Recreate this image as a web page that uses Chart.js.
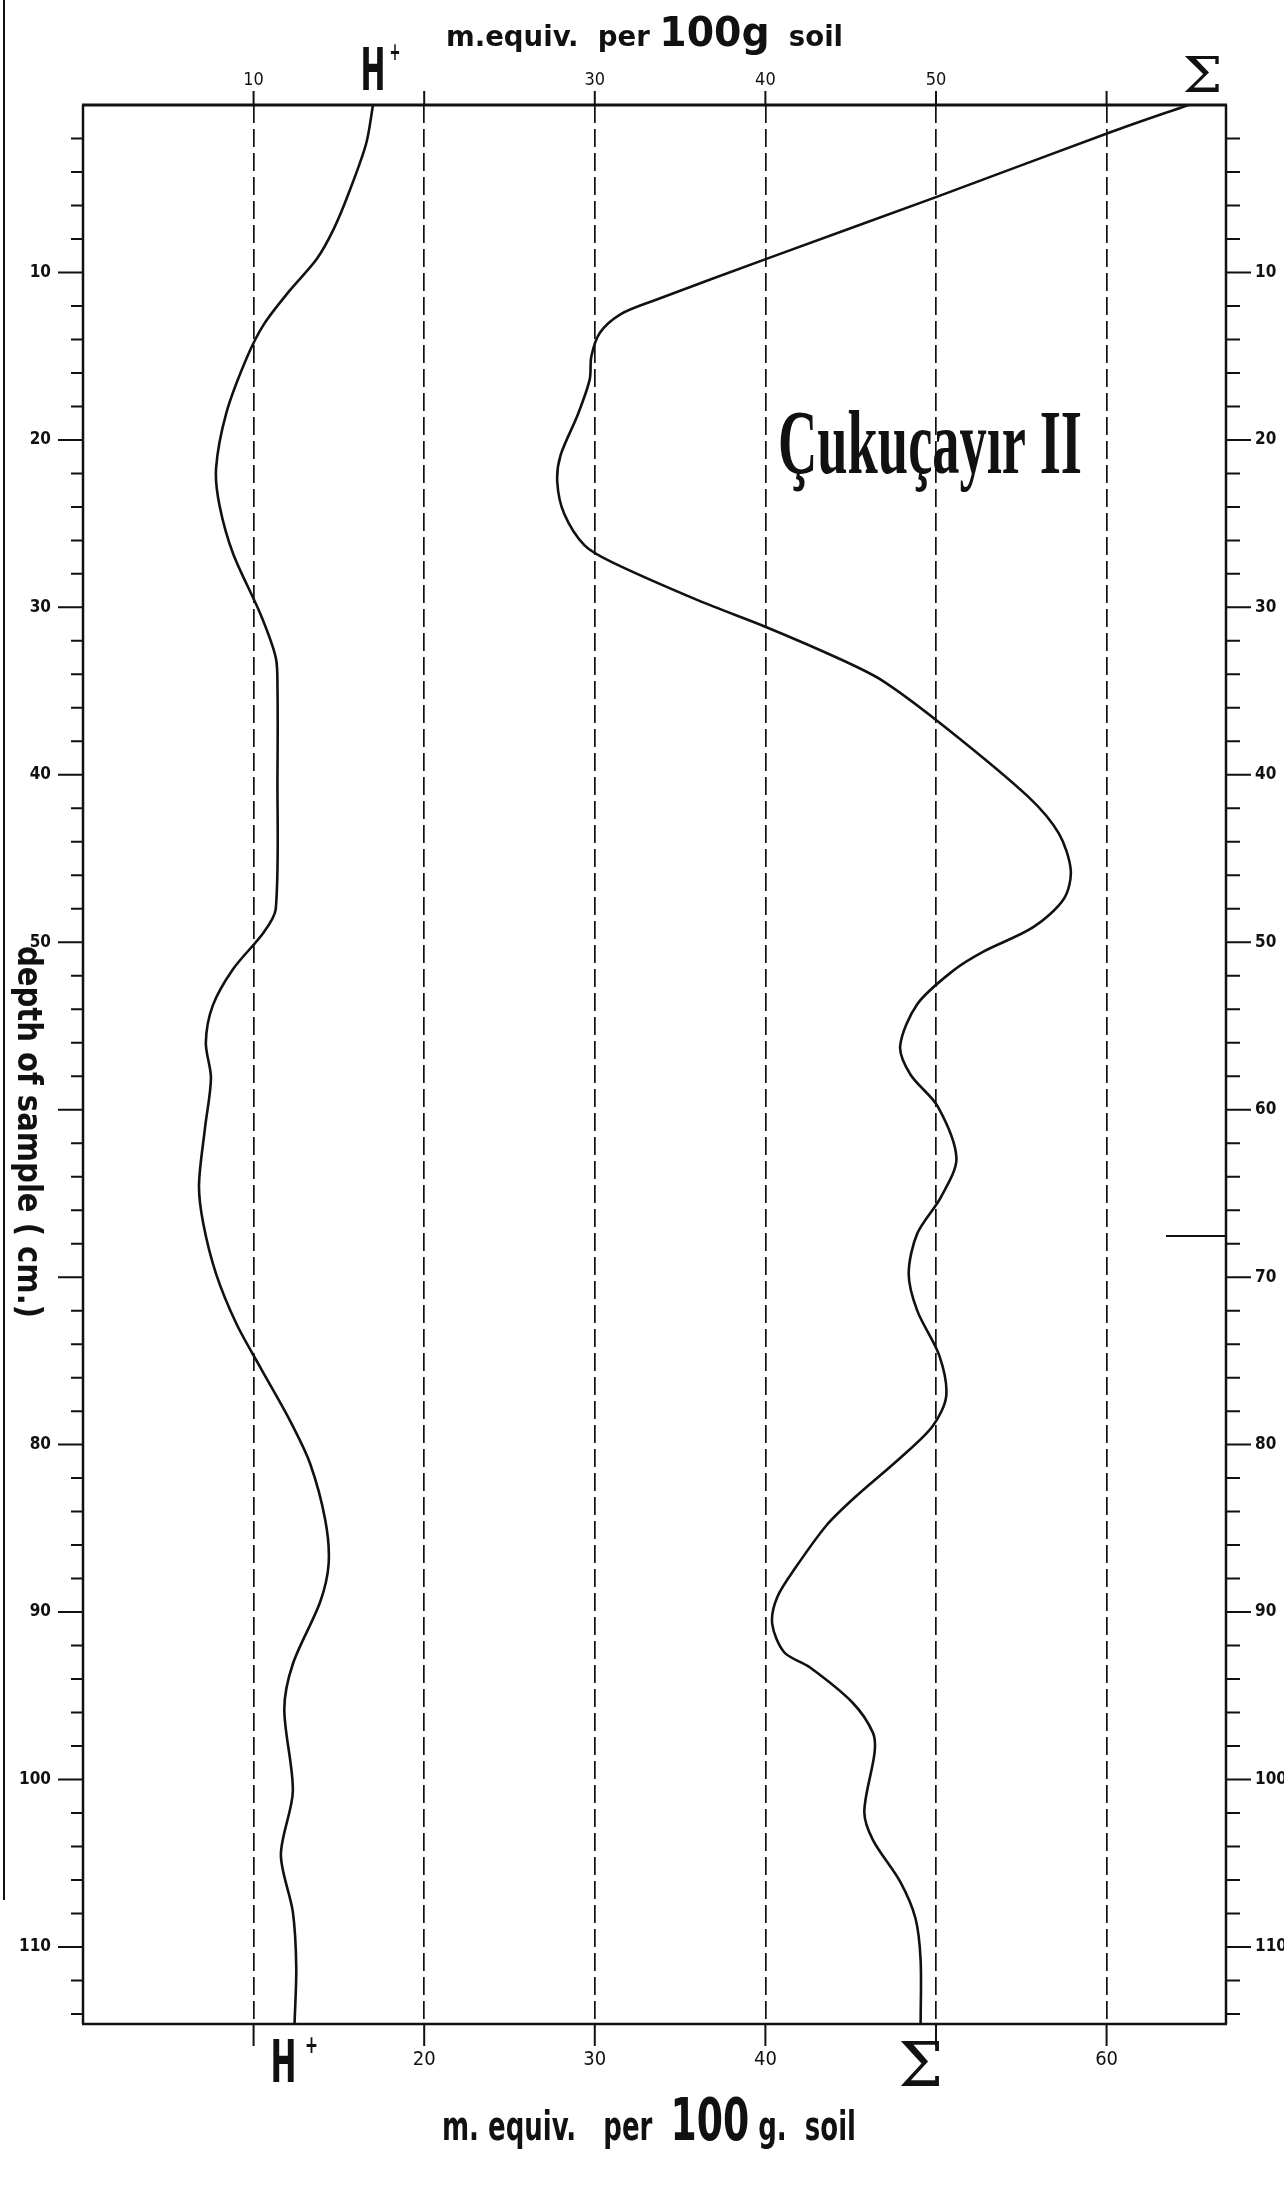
<!DOCTYPE html>
<html>
<head>
<meta charset="utf-8">
<script src="https://cdn.jsdelivr.net/npm/chart.js@4.4.1/dist/chart.umd.min.js"></script>
<style>
  html, body { margin: 0; padding: 0; background: #fff; }
  canvas { display: block; }
</style>
</head>
<body>
<canvas id="soil" width="1284" height="2189"></canvas>
<script>
// depth of sample (cm) and m. equiv. per 100 g soil
var hPlusDepth = [0, 2.3, 5.2, 7.4, 9.2, 11.1, 13.1, 15.1, 18.4, 21.7, 23.9, 26.8, 30.4, 33.0, 34.8, 39.9, 48.0, 49.4, 51.6, 53.8, 56.0, 58.1, 61.1, 64.5, 66.8, 69.8, 72.8, 75.4, 78.5, 81.1, 84.5, 87.1, 89.4, 93.1, 95.8, 100.7, 104.5, 107.9, 111.2, 114.6];
var hPlusValue = [17.0, 16.6, 15.6, 14.7, 13.7, 12.1, 10.6, 9.6, 8.4, 7.8, 8.0, 8.8, 10.4, 11.3, 11.4, 11.4, 11.3, 10.6, 8.8, 7.6, 7.2, 7.5, 7.15, 6.8, 7.05, 7.8, 9.0, 10.4, 12.1, 13.3, 14.2, 14.4, 13.9, 12.3, 11.8, 12.3, 11.6, 12.3, 12.5, 12.4];

var sumDepth = [0, 1.6, 5.5, 9.1, 11.7, 12.5, 13.6, 15.0, 16.4, 18.5, 20.9, 22.5, 24.4, 26.3, 27.3, 29.6, 31.2, 33.1, 34.4, 37.2, 41.3, 43.5, 45.7, 47.4, 49.1, 50.6, 51.7, 53.7, 56.2, 57.9, 59.8, 62.9, 65.2, 67.4, 69.8, 72.0, 74.7, 77.1, 78.9, 80.8, 83.1, 84.8, 87.3, 89.1, 90.7, 92.4, 93.3, 95.4, 97.2, 98.4, 101.9, 103.6, 106.1, 108.3, 110.8, 114.6];
var sumValue = [64.8, 60.3, 50.0, 40.3, 33.4, 31.5, 30.3, 29.8, 29.7, 29.0, 28.0, 27.8, 28.2, 29.4, 31.0, 36.1, 40.1, 44.4, 46.9, 50.6, 55.4, 57.2, 57.9, 57.5, 55.7, 52.7, 51.0, 48.9, 47.9, 48.5, 50.1, 51.2, 50.3, 48.9, 48.4, 48.9, 50.2, 50.6, 49.8, 47.9, 45.3, 43.6, 41.8, 40.7, 40.4, 41.1, 42.6, 45.1, 46.3, 46.4, 45.8, 46.3, 47.9, 48.8, 49.1, 49.1];

// which tick numbers are written on each axis
var bottomTickLabels = [20, 30, 40, 60];
var topTickLabels = [10, 30, 40, 50];
var leftDepthLabels = [10, 20, 30, 40, 50, 80, 90, 100, 110];   // 60 and 70 sit under the axis title
var rightDepthLabels = [10, 20, 30, 40, 50, 60, 70, 80, 90, 100, 110];

var INK = '#111';
var NARROW = "'Liberation Sans Narrow', 'DejaVu Sans Condensed', 'Roboto Condensed', 'Liberation Sans', sans-serif";

function toPoints(depth, value) {
  return depth.map(function (d, i) { return { x: value[i], y: d }; });
}

// draw text squeezed/stretched to a given width, centred on cx
function fitText(ctx, text, cx, baseY, font, width) {
  ctx.save();
  ctx.font = font;
  var w = ctx.measureText(text).width;
  ctx.translate(cx, baseY);
  ctx.scale(width / w, 1);
  ctx.textAlign = 'center';
  ctx.textBaseline = 'alphabetic';
  ctx.fillText(text, 0, 0);
  ctx.restore();
}

// runs of different sizes on one baseline, fitted between x0 and x1
function fitRuns(ctx, runs, x0, x1, baseY) {
  ctx.save();
  var total = 0;
  runs.forEach(function (r) { ctx.font = r[1]; r.w = ctx.measureText(r[0]).width; total += r.w; });
  ctx.translate(x0, baseY);
  ctx.scale((x1 - x0) / total, 1);
  ctx.textAlign = 'left';
  ctx.textBaseline = 'alphabetic';
  var x = 0;
  runs.forEach(function (r) { ctx.font = r[1]; ctx.fillText(r[0], x, 0); x += r.w; });
  ctx.restore();
}

var decorations = {
  id: 'decorations',
  afterDraw: function (chart) {
    var ctx = chart.ctx;
    var a = chart.chartArea;
    var xs = chart.scales.x, xt = chart.scales.x2, ys = chart.scales.y, yr = chart.scales.y2;
    ctx.save();
    ctx.strokeStyle = INK;
    ctx.fillStyle = INK;
    ctx.lineCap = 'butt';

    // frame
    ctx.lineWidth = 3;
    ctx.beginPath(); ctx.moveTo(a.left - 1, a.top); ctx.lineTo(a.right + 1, a.top); ctx.stroke();
    ctx.lineWidth = 2.5;
    ctx.beginPath();
    ctx.moveTo(a.left, a.top); ctx.lineTo(a.left, a.bottom);
    ctx.moveTo(a.right, a.top); ctx.lineTo(a.right, a.bottom);
    ctx.moveTo(a.left - 1, a.bottom); ctx.lineTo(a.right + 1, a.bottom);
    ctx.stroke();

    // tick marks
    ctx.lineWidth = 2;
    ctx.beginPath();
    xs.ticks.forEach(function (t) {
      if (t.value <= 0) return;
      var px = xs.getPixelForValue(t.value);
      ctx.moveTo(px, a.bottom); ctx.lineTo(px, a.bottom + 22);
    });
    xt.ticks.forEach(function (t) {
      if (t.value <= 0) return;
      var px = xt.getPixelForValue(t.value);
      ctx.moveTo(px, a.top); ctx.lineTo(px, a.top - 14);
    });
    ys.ticks.forEach(function (t) {
      if (t.value <= 0) return;
      var py = ys.getPixelForValue(t.value);
      ctx.moveTo(a.left, py); ctx.lineTo(a.left - (t.value % 10 === 0 ? 25 : 12), py);
    });
    yr.ticks.forEach(function (t) {
      if (t.value <= 0) return;
      var py = yr.getPixelForValue(t.value);
      ctx.moveTo(a.right, py); ctx.lineTo(a.right + (t.value % 10 === 0 ? 25 : 14), py);
    });
    ctx.stroke();

    // curve names at both ends of each curve
    var hTop = xs.getPixelForValue(hPlusValue[0]);
    var hBot = xs.getPixelForValue(hPlusValue[hPlusValue.length - 1]);
    var sTop = xs.getPixelForValue(sumValue[0]);
    var sBot = xs.getPixelForValue(sumValue[sumValue.length - 1]);
    fitText(ctx, 'H', hTop, 90, "bold 58px " + NARROW, 25);
    fitText(ctx, '+', hTop + 22, 60, "bold 24px " + NARROW, 11);
    fitText(ctx, 'H', hBot - 11, 2082, "bold 58px " + NARROW, 26);
    fitText(ctx, '+', hBot + 17, 2053, "bold 24px " + NARROW, 13);
    fitText(ctx, 'Σ', sTop + 14, 92, "48px 'DejaVu Serif', 'Liberation Serif', serif", 40);
    fitText(ctx, 'Σ', sBot, 2086, "62px 'DejaVu Serif', 'Liberation Serif', serif", 45);

    // axis titles
    fitRuns(ctx, [
      ['m.equiv.  per ', "bold 28px " + NARROW],
      ['100', "bold 40px " + NARROW],
      ['g', "bold 40px " + NARROW],
      ['  soil', "bold 28px " + NARROW]
    ], 446, 843, 46);
    fitRuns(ctx, [
      ['m. equiv.   per  ', "bold 40px " + NARROW],
      ['100', "bold 58px " + NARROW],
      [' g.  soil', "bold 40px " + NARROW]
    ], 442, 856, 2140);

    ctx.save();
    ctx.translate(27, 1132);
    ctx.rotate(Math.PI / 2);
    ctx.font = "bold 34px " + NARROW;
    var tw = ctx.measureText('depth of sample ( cm.)').width;
    ctx.scale(372 / tw, 1);
    ctx.textAlign = 'center';
    ctx.textBaseline = 'middle';
    ctx.fillText('depth of sample ( cm.)', 0, 0);
    ctx.restore();

    // profile name
    fitText(ctx, 'Çukuçayır II', 930, 473, "bold 92px 'Liberation Serif', 'DejaVu Serif', serif", 304);

    // scan edge and stray stroke of the original sheet
    ctx.lineWidth = 2;
    ctx.beginPath();
    ctx.moveTo(4, 0); ctx.lineTo(4, 1900);
    ctx.moveTo(1166, 1236); ctx.lineTo(a.right, 1236);
    ctx.stroke();
    ctx.restore();
  }
};

var tickFont = { family: NARROW, size: 20 };
var depthFont = { family: NARROW, size: 17, weight: 'bold' };

new Chart(document.getElementById('soil'), {
  type: 'scatter',
  data: {
    datasets: [{
      label: 'H+',
      data: toPoints(hPlusDepth, hPlusValue),
      showLine: true,
      borderColor: INK,
      borderWidth: 2.6,
      pointRadius: 0,
      tension: 0.3,
      fill: false
    }, {
      label: 'Σ',
      data: toPoints(sumDepth, sumValue),
      showLine: true,
      borderColor: INK,
      borderWidth: 2.6,
      pointRadius: 0,
      tension: 0.3,
      fill: false
    }]
  },
  options: {
    responsive: false,
    animation: false,
    layout: { padding: 0 },
    plugins: {
      legend: { display: false },
      tooltip: { enabled: false },
      title: { display: false }
    },
    scales: {
      x: {
        type: 'linear',
        position: 'bottom',
        min: 0,
        max: 67,
        afterFit: function (s) { s.height = 165; },
        ticks: {
          stepSize: 10,
          includeBounds: false,
          autoSkip: false,
          maxRotation: 0,
          padding: 24,
          color: INK,
          font: tickFont,
          callback: function (v) { return bottomTickLabels.indexOf(v) >= 0 ? String(v) : ''; }
        },
        grid: {
          display: true,
          drawTicks: false,
          lineWidth: 1.7,
          color: function (c) { return c.tick && c.tick.value > 0 ? INK : 'rgba(0,0,0,0)'; },
          borderDash: [18, 6]
        },
        border: { display: false, dash: [18, 6] }
      },
      x2: {
        type: 'linear',
        position: 'top',
        min: 0,
        max: 67,
        afterFit: function (s) { s.height = 105; },
        ticks: {
          stepSize: 10,
          includeBounds: false,
          autoSkip: false,
          maxRotation: 0,
          padding: 14,
          color: INK,
          font: { family: NARROW, size: 18 },
          callback: function (v) { return topTickLabels.indexOf(v) >= 0 ? String(v) : ''; }
        },
        grid: { display: false, drawTicks: false },
        border: { display: false }
      },
      y: {
        type: 'linear',
        position: 'left',
        reverse: true,
        min: 0,
        max: 114.6,
        afterFit: function (s) { s.width = 83; },
        ticks: {
          stepSize: 2,
          includeBounds: false,
          autoSkip: false,
          padding: 32,
          color: INK,
          font: depthFont,
          callback: function (v) { return leftDepthLabels.indexOf(v) >= 0 ? String(v) : ''; }
        },
        grid: { display: false, drawTicks: false },
        border: { display: false }
      },
      y2: {
        type: 'linear',
        position: 'right',
        reverse: true,
        min: 0,
        max: 114.6,
        afterFit: function (s) { s.width = 58; },
        ticks: {
          stepSize: 2,
          includeBounds: false,
          autoSkip: false,
          padding: 29,
          color: INK,
          font: depthFont,
          callback: function (v) { return rightDepthLabels.indexOf(v) >= 0 ? String(v) : ''; }
        },
        grid: { display: false, drawTicks: false },
        border: { display: false }
      }
    }
  },
  plugins: [decorations]
});
</script>
</body>
</html>
